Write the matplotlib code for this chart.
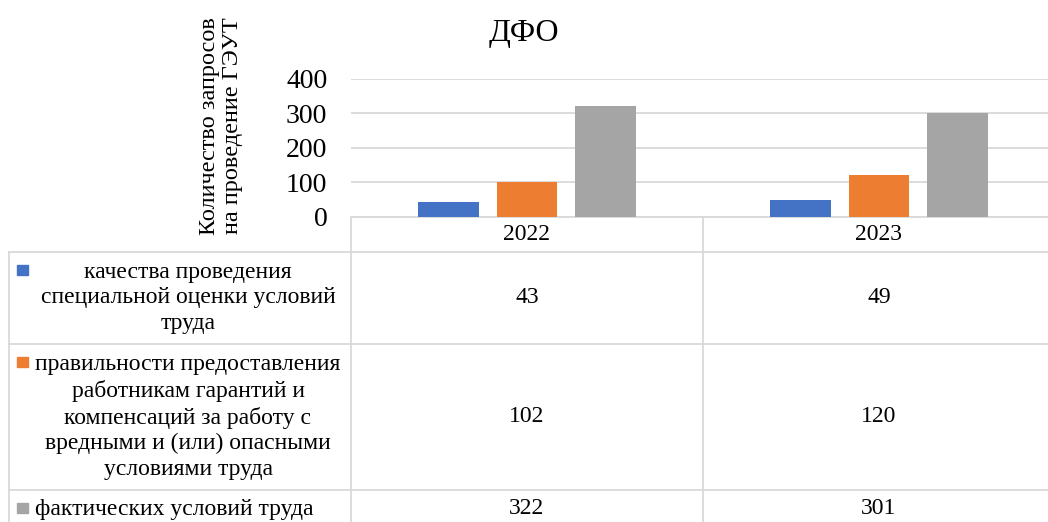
import matplotlib
matplotlib.use("Agg")
import matplotlib.pyplot as plt
import matplotlib.transforms as mtransforms

years = ["2022", "2023"]
series_names = [
    "качества проведения\nспециальной оценки условий\nтруда",
    "правильности предоставления\nработникам гарантий и\nкомпенсаций за работу с\nвредными и (или) опасными\nусловиями труда",
    "фактических условий труда",
]
sce_quality = [43, 49]
guarantees = [102, 120]
actual_conditions = [322, 301]
values = [sce_quality, guarantees, actual_conditions]
colors = ["#4472C4", "#ED7D31", "#A5A5A5"]

plt.rcParams['font.family'] = ['Liberation Serif', 'DejaVu Serif']
grid_c = "#D9D9D9"

W, H = 1048, 522
fig = plt.figure(figsize=(W / 100, H / 100), dpi=100)

# chart area (pixel layout of the reference)
left, right, top, base = 351, 1055, 79, 216.7
ax = fig.add_axes([left / W, (H - base) / H, (right - left) / W, (base - top) / H])
x = list(range(len(years)))
bw = 0.173
offs = [-0.223, 0, 0.223]
for vals, c, o in zip(values, colors, offs):
    ax.bar([i + o for i in x], vals, width=bw, color=c, zorder=3)
ax.set_xlim(-0.5, len(years) - 0.5)
ax.set_ylim(0, 400)
ax.set_yticks([0, 100, 200, 300, 400])
ax.set_xticks([])
ax.grid(axis='y', color=grid_c, linewidth=1.3, zorder=0)
for s in ["top", "right", "left"]:
    ax.spines[s].set_visible(False)
ax.spines["bottom"].set_color(grid_c)
ax.spines["bottom"].set_linewidth(1.3)
ax.tick_params(axis='y', length=0, pad=17, labelsize=20)

fig.text(524 / W, 1 - 33 / H, "ДФО", ha='center', va='center', fontsize=23)
fig.text(221 / W, 1 - 126 / H, "Количество запросов\nна проведение ГЭУТ",
         rotation=90, ha='center', va='center', multialignment='center',
         fontsize=17.5, linespacing=1.1)

# data table below the chart
tab = fig.add_axes([0, 0, 1, 1])
tab.set_xlim(0, W)
tab.set_ylim(H, 0)
tab.axis('off')
blend = mtransforms.blended_transform_factory(ax.transData, tab.transData)

row_edges = [base, 251.7, 344, 490, 536]
lw = 1.3
for y in row_edges[1:-1]:
    tab.plot([9, W + 10], [y, y], color=grid_c, lw=lw, clip_on=False)
tab.plot([9, 9], [row_edges[1], H + 5], color=grid_c, lw=lw, clip_on=False)
for xv in [-0.5, 0.5]:
    tab.plot([xv, xv], [base, H + 5], color=grid_c, lw=lw, transform=blend, clip_on=False)

fs = 17
for i, yr in enumerate(years):
    tab.text(i, (row_edges[0] + row_edges[1]) / 2, yr, transform=blend,
             ha='center', va='center', fontsize=fs)

for r, (name, vals, c) in enumerate(zip(series_names, values, colors)):
    y0, y1 = row_edges[r + 1], row_edges[r + 2]
    yc = (y0 + y1) / 2
    if r == 2:
        yc = 509
    nlines = name.count("\n") + 1
    first_line = yc - (nlines - 1) * 27.2 / 2
    tab.add_patch(plt.Rectangle((17, first_line - 6), 11, 10, color=c))
    if nlines > 1:
        tab.text(188, yc, name, ha='center', va='center', fontsize=fs,
                 multialignment='center', linespacing=1.27)
    else:
        tab.text(35, yc, name, ha='left', va='center', fontsize=fs)
    for i, v in enumerate(vals):
        tab.text(i, yc, str(v), transform=blend, ha='center', va='center', fontsize=fs)

fig.savefig("out.png", dpi=100)
